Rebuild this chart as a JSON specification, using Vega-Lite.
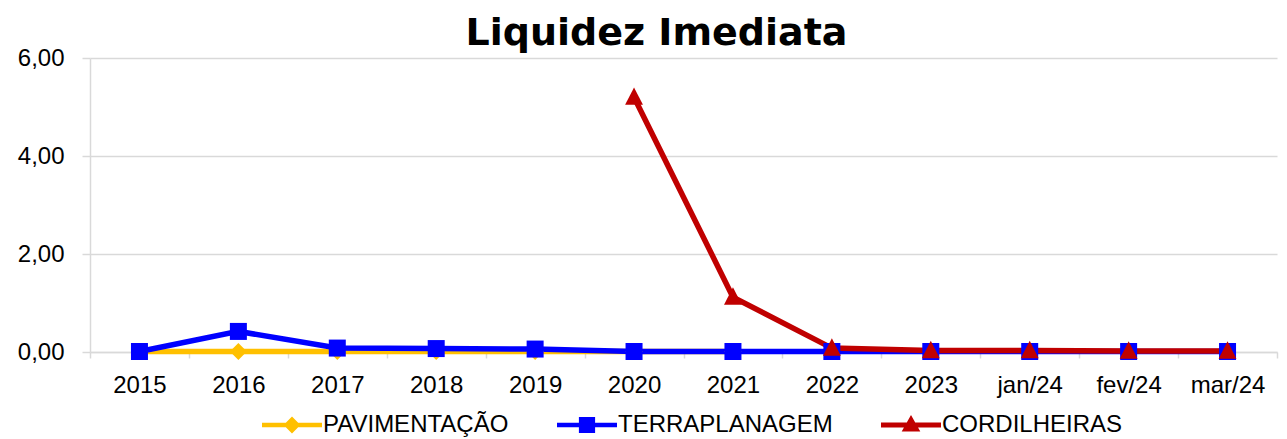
{
  "$schema": "https://vega.github.io/schema/vega-lite/v6.json",
  "autosize": {"type": "none"},
  "padding": {"left": 90, "top": 58, "right": 10, "bottom": 87},
  "width": 1187,
  "height": 294,
  "background": "white",
  "title": {
    "text": "Liquidez Imediata",
    "font": "DejaVu Sans",
    "fontSize": 38,
    "fontWeight": "bold",
    "color": "#000000",
    "anchor": "middle",
    "dx": -27,
    "dy": 49,
    "baseline": "alphabetic",
    "offset": 12
  },
  "config": {
    "view": {"stroke": null},
    "font": "Liberation Sans"
  },
  "data": {
    "values": [
      {"periodo": "2015", "serie": "PAVIMENTAÇÃO", "ordem": 1, "valor": 0.01},
      {"periodo": "2016", "serie": "PAVIMENTAÇÃO", "ordem": 1, "valor": 0.01},
      {"periodo": "2017", "serie": "PAVIMENTAÇÃO", "ordem": 1, "valor": 0.01},
      {"periodo": "2018", "serie": "PAVIMENTAÇÃO", "ordem": 1, "valor": 0.01},
      {"periodo": "2019", "serie": "PAVIMENTAÇÃO", "ordem": 1, "valor": 0.01},
      {"periodo": "2020", "serie": "PAVIMENTAÇÃO", "ordem": 1, "valor": 0.01},
      {"periodo": "2021", "serie": "PAVIMENTAÇÃO", "ordem": 1, "valor": 0.01},
      {"periodo": "2015", "serie": "TERRAPLANAGEM", "ordem": 2, "valor": 0.01},
      {"periodo": "2016", "serie": "TERRAPLANAGEM", "ordem": 2, "valor": 0.42},
      {"periodo": "2017", "serie": "TERRAPLANAGEM", "ordem": 2, "valor": 0.08},
      {"periodo": "2018", "serie": "TERRAPLANAGEM", "ordem": 2, "valor": 0.07},
      {"periodo": "2019", "serie": "TERRAPLANAGEM", "ordem": 2, "valor": 0.06},
      {"periodo": "2020", "serie": "TERRAPLANAGEM", "ordem": 2, "valor": 0.01},
      {"periodo": "2021", "serie": "TERRAPLANAGEM", "ordem": 2, "valor": 0.01},
      {"periodo": "2022", "serie": "TERRAPLANAGEM", "ordem": 2, "valor": 0.01},
      {"periodo": "2023", "serie": "TERRAPLANAGEM", "ordem": 2, "valor": 0.01},
      {"periodo": "jan/24", "serie": "TERRAPLANAGEM", "ordem": 2, "valor": 0.01},
      {"periodo": "fev/24", "serie": "TERRAPLANAGEM", "ordem": 2, "valor": 0.01},
      {"periodo": "mar/24", "serie": "TERRAPLANAGEM", "ordem": 2, "valor": 0.01},
      {"periodo": "2020", "serie": "CORDILHEIRAS", "ordem": 3, "valor": 5.2},
      {"periodo": "2021", "serie": "CORDILHEIRAS", "ordem": 3, "valor": 1.12},
      {"periodo": "2022", "serie": "CORDILHEIRAS", "ordem": 3, "valor": 0.08},
      {"periodo": "2023", "serie": "CORDILHEIRAS", "ordem": 3, "valor": 0.03},
      {"periodo": "jan/24", "serie": "CORDILHEIRAS", "ordem": 3, "valor": 0.03},
      {"periodo": "fev/24", "serie": "CORDILHEIRAS", "ordem": 3, "valor": 0.02},
      {"periodo": "mar/24", "serie": "CORDILHEIRAS", "ordem": 3, "valor": 0.02}
    ]
  },
  "encoding": {
    "x": {
      "field": "periodo",
      "type": "nominal",
      "scale": {
        "type": "band",
        "domain": ["2015", "2016", "2017", "2018", "2019", "2020", "2021", "2022", "2023", "jan/24", "fev/24", "mar/24"],
        "paddingInner": 0,
        "paddingOuter": 0
      },
      "axis": {
        "title": null,
        "labelAngle": 0,
        "labelFont": "Liberation Sans",
        "labelFontSize": 24,
        "labelColor": "#000000",
        "labelPadding": 15,
        "tickBand": "extent",
        "tickSize": 6,
        "tickColor": "#d9d9d9",
        "tickWidth": 1.5,
        "domainColor": "#d9d9d9",
        "domainWidth": 1.5,
        "grid": false
      }
    },
    "y": {
      "field": "valor",
      "type": "quantitative",
      "scale": {"domain": [0, 6], "nice": false},
      "axis": {
        "title": null,
        "values": [0, 2, 4, 6],
        "labelExpr": "replace(format(datum.value, '.2f'), '.', ',')",
        "labelFont": "Liberation Sans",
        "labelFontSize": 24,
        "labelColor": "#000000",
        "labelPadding": 18,
        "tickSize": 8,
        "tickColor": "#d9d9d9",
        "tickWidth": 1.5,
        "domainColor": "#d9d9d9",
        "domainWidth": 1.5,
        "gridColor": "#d9d9d9",
        "gridWidth": 1.5
      }
    },
    "color": {
      "field": "serie",
      "type": "nominal",
      "scale": {
        "domain": ["CORDILHEIRAS", "TERRAPLANAGEM", "PAVIMENTAÇÃO"],
        "range": ["#C00000", "#0000FF", "#FFC000"]
      },
      "legend": null
    }
  },
  "layer": [
    {
      "mark": {"type": "line", "strokeWidth": 5.5},
      "encoding": {
        "detail": {"field": "serie"},
        "order": {"field": "ordem"}
      }
    },
    {
      "transform": [{"filter": "datum.serie === 'PAVIMENTAÇÃO'"}],
      "mark": {"type": "point", "filled": true, "opacity": 1, "size": 289, "shape": "M0,-1L1,0L0,1L-1,0Z"}
    },
    {
      "transform": [{"filter": "datum.serie === 'TERRAPLANAGEM'"}],
      "mark": {"type": "point", "filled": true, "opacity": 1, "size": 289, "shape": "M-1,-1H1V1H-1Z"}
    },
    {
      "transform": [{"filter": "datum.serie === 'CORDILHEIRAS'"}],
      "mark": {"type": "point", "filled": true, "opacity": 1, "size": 289, "shape": "M0,-1.15L1.05,0.9L-1.05,0.9Z"}
    },
    {
      "mark": {"type": "point", "filled": true, "opacity": 0},
      "encoding": {
        "color": {"value": "#ffffff"},
        "fill": {
          "field": "serie",
          "type": "nominal",
          "scale": {
            "domain": ["PAVIMENTAÇÃO", "TERRAPLANAGEM", "CORDILHEIRAS"],
            "range": ["#FFC000", "#0000FF", "#C00000"]
          },
          "legend": {
            "title": null,
            "orient": "none",
            "legendX": 172,
            "legendY": 337,
            "padding": 0,
            "direction": "horizontal",
            "labelFont": "Liberation Sans",
            "labelFontSize": 24,
            "labelColor": "#000000",
            "labelLimit": 400,
            "labelOffset": 1,
            "columnPadding": 48,
            "symbolSize": 3600,
            "symbolStrokeWidth": 0,
            "symbolOpacity": 1
          }
        },
        "shape": {
          "field": "serie",
          "type": "nominal",
          "scale": {
            "domain": ["PAVIMENTAÇÃO", "TERRAPLANAGEM", "CORDILHEIRAS"],
            "range": [
              "M-1,-0.075H1V0.075H-1Z M0,-0.28L0.28,0L0,0.28L-0.28,0Z",
              "M-1,-0.075H1V0.075H-1Z M-0.27,-0.27H0.27V0.27H-0.27Z",
              "M-1,-0.085H1V0.085H-1Z M0,-0.33L0.31,0.22L-0.31,0.22Z"
            ]
          },
          "legend": {
            "title": null,
            "orient": "none",
            "legendX": 172,
            "legendY": 337,
            "padding": 0,
            "direction": "horizontal",
            "labelFont": "Liberation Sans",
            "labelFontSize": 24,
            "labelColor": "#000000",
            "labelLimit": 400,
            "labelOffset": 1,
            "columnPadding": 48,
            "symbolSize": 3600,
            "symbolStrokeWidth": 0,
            "symbolOpacity": 1
          }
        }
      }
    }
  ]
}
